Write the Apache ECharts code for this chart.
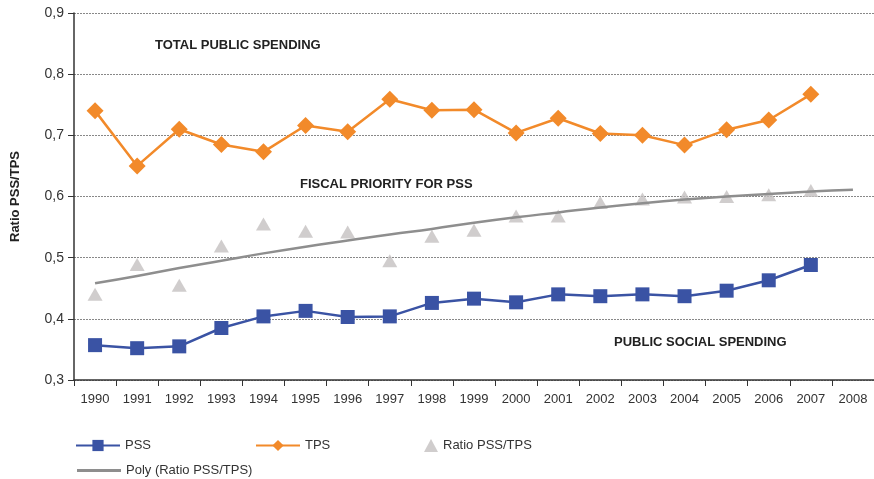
<!DOCTYPE html>
<html>
<head>
<meta charset="utf-8">
<script src="https://cdn.jsdelivr.net/npm/echarts@6/dist/echarts.min.js"></script>
<style>
  html, body { margin: 0; padding: 0; background: #fff; }
  #chart { width: 874px; height: 479px; }
</style>
</head>
<body>
<div id="chart"></div>
<script>
(function (echarts) {
    'use strict';

    const years = ['1990', '1991', '1992', '1993', '1994', '1995', '1996', '1997', '1998', '1999',
        '2000', '2001', '2002', '2003', '2004', '2005', '2006', '2007', '2008'];

    const pss = [0.357, 0.352, 0.355, 0.385, 0.404, 0.413, 0.403, 0.404, 0.426, 0.433,
        0.427, 0.440, 0.437, 0.440, 0.437, 0.446, 0.463, 0.488, null];

    const tps = [0.740, 0.650, 0.710, 0.685, 0.673, 0.716, 0.706, 0.759, 0.741, 0.742,
        0.704, 0.728, 0.703, 0.700, 0.684, 0.709, 0.725, 0.767, null];

    const ratio = [0.440, 0.489, 0.455, 0.519, 0.555, 0.543, 0.542, 0.495, 0.535, 0.545,
        0.568, 0.568, 0.590, 0.596, 0.599, 0.600, 0.603, 0.610, null];

    const poly = [0.458, 0.470, 0.483, 0.495, 0.507, 0.518, 0.528, 0.538, 0.547, 0.557,
        0.566, 0.574, 0.582, 0.589, 0.595, 0.600, 0.604, 0.608, 0.611];

    const fontFamily = '"Liberation Sans", Arial, sans-serif';
    const blue = '#3a53a4';
    const orange = '#f28a2a';
    const lightGrey = '#c4c1c0';
    const grey = '#8e8e8e';

    const legendText = {fontFamily: fontFamily, fontSize: 13, color: '#333'};
    function legendAt(item, left, top, extra) {
        return Object.assign({
            data: [item], left: left, top: top, itemWidth: 44, itemHeight: 14,
            itemGap: 8, textStyle: legendText, selectedMode: false
        }, extra || {});
    }

    function label(text, left, top) {
        return {
            type: 'text', left: left, top: top,
            style: {text: text, fontFamily: fontFamily, fontSize: 13, fontWeight: 'bold', fill: '#222'}
        };
    }

    const chart = echarts.init(document.getElementById('chart'));
    chart.setOption({
        animation: false,
        grid: {left: 74, right: 0, top: 13, bottom: 99},
        legend: [
            legendAt('PSS', 70, 434),
            legendAt('TPS', 250, 434),
            legendAt({name: 'Ratio PSS/TPS', icon: 'triangle'}, 419, 434, {itemWidth: 14, itemHeight: 13, itemGap: 10}),
            legendAt({name: 'Poly (Ratio PSS/TPS)', icon: 'rect'}, 72, 459, {itemHeight: 3, itemGap: 8})
        ],
        graphic: [
            label('TOTAL PUBLIC SPENDING', 155, 39),
            label('FISCAL PRIORITY FOR PSS', 300, 178),
            label('PUBLIC SOCIAL SPENDING', 614, 336)
        ],
        xAxis: {
            type: 'category',
            data: years,
            boundaryGap: true,
            axisLine: {lineStyle: {color: '#333', width: 1.5}},
            axisTick: {show: true, length: 6, lineStyle: {color: '#333'}},
            axisLabel: {fontFamily: fontFamily, fontSize: 13, color: '#333', margin: 13}
        },
        yAxis: {
            type: 'value',
            min: 0.3,
            max: 0.9,
            interval: 0.1,
            name: 'Ratio PSS/TPS',
            nameLocation: 'middle',
            nameGap: 52,
            nameTextStyle: {fontFamily: fontFamily, fontSize: 13, fontWeight: 'bold', color: '#222'},
            axisLine: {show: true, lineStyle: {color: '#333', width: 1.5}},
            axisTick: {show: true, length: 6, lineStyle: {color: '#333'}},
            axisLabel: {
                fontFamily: fontFamily, fontSize: 14, color: '#333', margin: 10,
                formatter: v => v.toFixed(1).replace('.', ',')
            },
            splitLine: {lineStyle: {color: '#888', type: [2, 1], width: 1}}
        },
        series: [
            {
                name: 'PSS', type: 'line', data: pss,
                symbol: 'rect', symbolSize: 14,
                itemStyle: {color: blue},
                lineStyle: {color: blue, width: 2.5},
                z: 4
            },
            {
                name: 'TPS', type: 'line', data: tps,
                symbol: 'diamond', symbolSize: 17,
                itemStyle: {color: orange},
                lineStyle: {color: orange, width: 2.5},
                z: 4
            },
            {
                name: 'Ratio PSS/TPS', type: 'scatter', data: ratio,
                symbol: 'triangle', symbolSize: [15, 13],
                itemStyle: {color: lightGrey},
                z: 2
            },
            {
                name: 'Poly (Ratio PSS/TPS)', type: 'line', data: poly,
                symbol: 'none', smooth: true,
                lineStyle: {color: grey, width: 2.5},
                itemStyle: {color: grey},
                z: 3
            }
        ]
    });

})(echarts);
</script>
</body>
</html>
